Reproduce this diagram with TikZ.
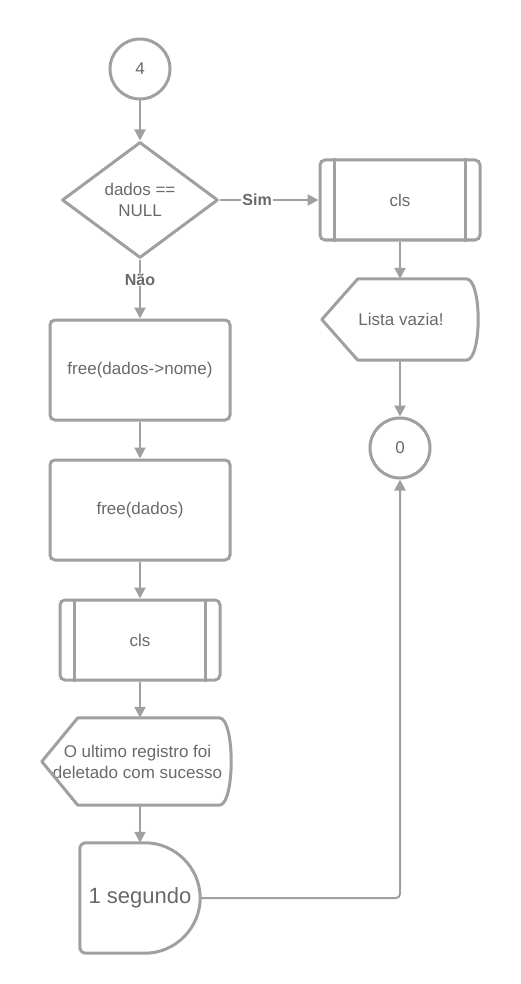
\documentclass[tikz,border=0pt]{standalone}
\usepackage{fontspec}
\setmainfont{Liberation Sans}
\usetikzlibrary{positioning, calc, arrows.meta, shapes.geometric}

\definecolor{linegray}{RGB}{160,160,160}
\definecolor{textgray}{RGB}{105,105,105}

\begin{document}
\begin{tikzpicture}[x=1pt, y=-1pt,
		every node/.style = {text = textgray, font = \fontsize{17}{21}\selectfont, align = center},
		shapeline/.style = {draw = linegray, line width = 3pt},
		process/.style = {shapeline, rounded corners = 5pt, minimum width = 180pt, minimum height = 100pt},
		subroutine/.style = {shapeline, rounded corners = 5pt, minimum width = 160pt, minimum height = 80pt},
		connector/.style = {shapeline, circle, minimum size = 60pt, inner sep = 0pt},
		decision/.style = {shapeline, diamond, aspect = 1.35, minimum width = 156pt, minimum height = 116pt, inner sep = 0pt, line join = round},
		blank/.style = {inner sep = 0pt},
		flow/.style = {draw = linegray, line width = 2pt, -{Triangle[length = 11pt, width = 11pt]}},
		answer/.style = {font = \bfseries\fontsize{16}{19}\selectfont, fill = white, inner sep = 1pt}
	]
		\useasboundingbox (0,0) rectangle (520,984);
		\def\bar{16}
		
		% left column
		\node [connector] (start) at (140,69) {4};
		\node [decision] (check) at (140,200) {dados ==\\NULL};
		\node [process] (freename) at (140,370) {free(dados->nome)};
		\node [process] (freedata) at (140,510) {free(dados)};
		\node [subroutine] (clsleft) at (140,640) {cls};
		\node [blank, minimum width = 191pt, minimum height = 87pt] (msgleft) at (137.5,761.5) {O ultimo registro foi\\deletado com sucesso};
		\node [blank, minimum width = 120pt, minimum height = 110pt, font = \fontsize{22}{26}\selectfont] (wait) at (140,898) {1 segundo};
		
		% right column
		\node [subroutine] (clsright) at (400,200) {cls};
		\node [blank, minimum width = 158pt, minimum height = 81pt] (msgright) at (401,319.5) {Lista vazia!};
		\node [connector] (finish) at (400,448) {0};
		
		% inner bars of the subroutines
		\foreach \s in {clsleft, clsright} {
			\draw [shapeline] ($ (\s.north west) + (\bar,0) $) -- ($ (\s.south west) + (\bar,0) $);
			\draw [shapeline] ($ (\s.north east) - (\bar,0) $) -- ($ (\s.south east) - (\bar,0) $);
		}
		
		% display shapes
		\foreach \m in {msgleft, msgright} {
			\draw [shapeline, line join = round]
				(\m.west) -- ($ (\m.north west) + (36,0) $) -- ($ (\m.north east) - (14,0) $)
				.. controls ($ (\m.north east) + (2,0) $) and ($ (\m.south east) + (2,0) $) .. ($ (\m.south east) - (14,0) $)
				-- ($ (\m.south west) + (36,0) $) -- cycle;
		}
		
		% delay shape
		\draw [shapeline, rounded corners = 6pt]
			($ (wait.north east) - (55,0) $) -- (wait.north west) -- (wait.south west) -- ($ (wait.south east) - (55,0) $);
		\draw [shapeline]
			($ (wait.south east) - (55,0) $) .. controls ($ (wait.south east) + (-25,0) $) and ($ (wait.east) + (0,30) $) .. (wait.east)
			.. controls ($ (wait.east) - (0,30) $) and ($ (wait.north east) + (-25,0) $) .. ($ (wait.north east) - (55,0) $);
		
		% connectors
		\draw [flow] (start) -- (check);
		\draw [flow] (check.south) -- node [answer, pos = 0.34] {Não} (freename);
		\draw [flow] (check.east) -- node [answer, pos = 0.38] {Sim} (clsright);
		\draw [flow] (freename) -- (freedata);
		\draw [flow] (freedata) -- (clsleft);
		\draw [flow] (clsleft) -- (msgleft.north -| clsleft);
		\draw [flow] (msgleft.south -| clsleft) -- (wait);
		\draw [flow] (clsright) -- (msgright.north -| clsright);
		\draw [flow] (msgright.south -| clsright) -- (finish);
		\draw [flow, rounded corners = 4pt] (wait.east) -- (wait.east -| finish) -- (finish.south);
	\end{tikzpicture}
\end{document}
